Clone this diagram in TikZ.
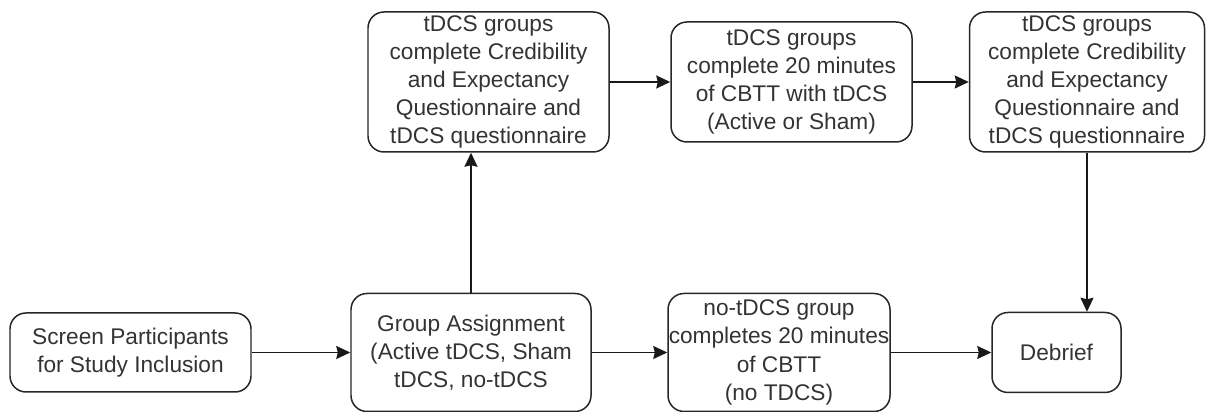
\documentclass[tikz,border=0pt]{standalone}
\usepackage{fontspec}
\setmainfont{Liberation Sans}
\usetikzlibrary{arrows.meta,calc}
\tikzset{
  stagebox/.style={draw=black!85, line width=0.85pt, rounded corners=0.32cm,
    align=center, inner sep=0pt, text=black!80,
    font=\fontsize{12.9}{16}\selectfont},
  flow/.style={-{Stealth[length=0.28cm,width=0.26cm,inset=0.03cm]}, line width=0.85pt, draw=black!90}
}
\begin{document}
\begin{tikzpicture}
\useasboundingbox (0,0) rectangle (24.12,8.24); % page frame

% Bottom row
\node[stagebox, minimum width=4.82cm, minimum height=1.58cm] (screen) at (2.61,1.19)
  {Screen Participants\\for Study Inclusion}; % screening
\node[stagebox, minimum width=4.80cm, minimum height=2.36cm] (assign) at (9.42,1.19)
  {Group Assignment\\(Active tDCS, Sham\\tDCS, no-tDCS}; % group assignment
\node[stagebox, minimum width=4.44cm, minimum height=2.36cm] (notdcs) at (15.58,1.19)
  {no-tDCS group\\completes 20 minutes\\of CBTT\\(no TDCS)}; % no-tDCS arm
\node[stagebox, minimum width=2.58cm, minimum height=1.60cm] (debrief) at (21.13,1.19)
  {Debrief}; % debrief

% Top row
\node[stagebox, minimum width=4.82cm, minimum height=2.80cm] (ceqpre) at (9.77,6.60)
  {tDCS groups\\complete Credibility\\and Expectancy\\Questionnaire and\\tDCS questionnaire}; % questionnaires before
\node[stagebox, minimum width=4.82cm, minimum height=2.40cm] (cbtt) at (15.83,6.60)
  {tDCS groups\\complete 20 minutes\\of CBTT with tDCS\\(Active or Sham)}; % tDCS session
\node[stagebox, minimum width=4.70cm, minimum height=2.80cm] (ceqpost) at (21.74,6.60)
  {tDCS groups\\complete Credibility\\and Expectancy\\Questionnaire and\\tDCS questionnaire}; % questionnaires after

% Connectors
\draw[flow] (screen) -- (assign); % screen to assignment
\draw[flow] (assign) -- (notdcs); % assignment to no-tDCS
\draw[flow] (notdcs) -- (debrief); % no-tDCS to debrief
\draw[flow] (assign.north) -- (assign.north |- ceqpre.south); % assignment to questionnaires
\draw[flow] (ceqpre) -- (cbtt); % questionnaires to session
\draw[flow] (cbtt) -- (ceqpost); % session to questionnaires
\draw[flow] (ceqpost.south) -- (ceqpost.south |- debrief.north); % questionnaires to debrief
\end{tikzpicture}
\end{document}
